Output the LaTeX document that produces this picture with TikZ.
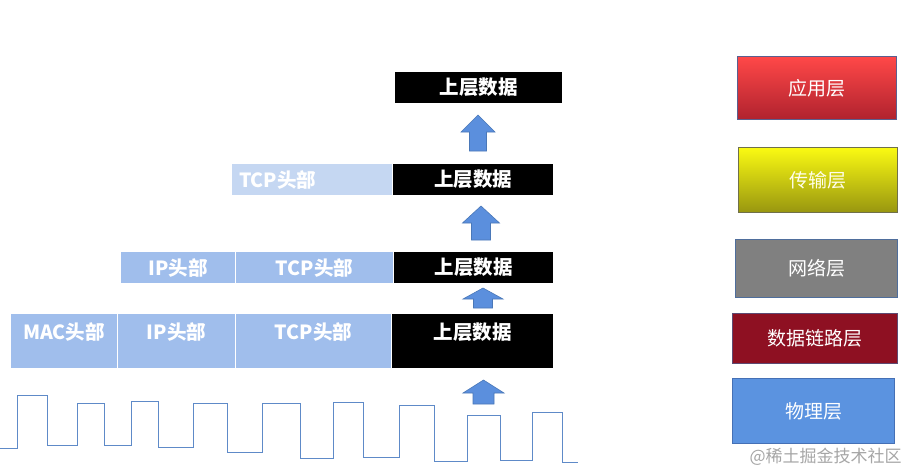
\documentclass[tikz,border=0pt]{standalone}
\usepackage{fontspec}
\setmainfont{Noto Sans CJK SC}
\usetikzlibrary{shadings}
\definecolor{hdrblue}{HTML}{A0BEEC}
\definecolor{hdrlight}{HTML}{C5D7F2}
\definecolor{wavecol}{HTML}{5E8AC8}
\definecolor{arrfill}{HTML}{5B8FDD}
\definecolor{arrdraw}{HTML}{4A78B8}
\definecolor{appTop}{HTML}{FF4848}
\definecolor{appBot}{HTML}{B0222E}
\definecolor{appBorder}{HTML}{5B5F8F}
\definecolor{trTop}{HTML}{FAFA12}
\definecolor{trBot}{HTML}{989610}
\definecolor{trBorder}{HTML}{70704A}
\definecolor{netFill}{HTML}{808080}
\definecolor{netBorder}{HTML}{4F6E9C}
\definecolor{dlFill}{HTML}{8E1022}
\definecolor{dlBorder}{HTML}{5D4A72}
\definecolor{phFill}{HTML}{5B93E0}
\definecolor{phBorder}{HTML}{4570B5}
\tikzset{
  cell/.style={anchor=north west, inner sep=0pt, outer sep=0pt, text=white,
    font=\fontsize{19.5}{21}\selectfont\bfseries},
  datacell/.style={cell, fill=black},
  hdrcell/.style={cell, fill=hdrblue},
  layerbox/.style={anchor=north west, inner sep=0pt, text=white, line width=1pt,
    font=\fontsize{19}{21}\selectfont},
  blkarrow/.style={fill=arrfill, draw=arrdraw, line width=0.6pt},
  wave/.style={draw=wavecol, line width=1pt}
}
\newcommand{\blkarr}[6]{%
  \draw[blkarrow] (#1,#2) -- ({#1+#5},#3) -- ({#1+#6},#3) -- ({#1+#6},#4)
    -- ({#1-#6},#4) -- ({#1-#6},#3) -- ({#1-#5},#3) -- cycle;}
\begin{document}
\begin{tikzpicture}[x=1pt,y=-1pt]
\useasboundingbox[fill=white] (0,0) rectangle (914,474);

% row 1
\node[datacell, minimum width=167pt, minimum height=31pt] (d1) at (395,72) {上层数据};
% row 2
\node[cell, fill=hdrlight, minimum width=160pt, minimum height=31pt, text width=146pt, align=left] (t2) at (232,164) {TCP头部};
\node[datacell, minimum width=160pt, minimum height=31pt] (d2) at (393,164) {上层数据};
% row 3
\node[hdrcell, minimum width=114pt, minimum height=31pt] (i3) at (121,252) {IP头部};
\node[hdrcell, minimum width=157pt, minimum height=31pt] (t3) at (236,252) {TCP头部};
\node[datacell, minimum width=159pt, minimum height=31pt] (d3) at (394,252) {上层数据};
% row 4
\tikzset{row4/.style={minimum height=54pt, text height=14pt, text depth=18pt}}
\node[hdrcell, row4, minimum width=106pt] (m4) at (11,314) {MAC头部};
\node[hdrcell, row4, minimum width=117pt] (i4) at (118,314) {IP头部};
\node[hdrcell, row4, minimum width=155pt] (t4) at (236,314) {TCP头部};
\node[datacell, row4, minimum width=161pt] (d4) at (392,314) {上层数据};

% block arrows
\blkarr{478}{115}{132}{151}{17}{8.5}
\blkarr{481}{206}{223}{240}{18.5}{9.5}
\blkarr{483}{288}{299}{308}{20}{9.5}
\blkarr{483.5}{380}{393}{404}{20.5}{10.5}

% square wave
\draw[wave] (0,448) -- (17,448) -- (17,395) -- (47,395) -- (47,445) -- (77,445)
  -- (77,403) -- (104,403) -- (104,445) -- (131,445) -- (131,401) -- (158,401)
  -- (158,447) -- (193,447) -- (193,403) -- (227,403) -- (227,452) -- (262,452)
  -- (262,403) -- (300,403) -- (300,458) -- (333,458) -- (333,402) -- (363,402)
  -- (363,457) -- (399,457) -- (399,405) -- (434,405) -- (434,461) -- (467,461)
  -- (467,415) -- (500,415) -- (500,460) -- (532,460) -- (532,412) -- (562,412)
  -- (562,462) -- (578,462);

% layer boxes
\node[layerbox, draw=appBorder, top color=appTop, bottom color=appBot,
  minimum width=159pt, minimum height=63pt] (app) at (737,56) {应用层};
\node[layerbox, draw=trBorder, top color=trTop, bottom color=trBot, text=white!92!yellow,
  minimum width=159pt, minimum height=65pt] (tr) at (738,147) {传输层};
\node[layerbox, draw=netBorder, fill=netFill,
  minimum width=162pt, minimum height=58pt] (net) at (735,239) {网络层};
\node[layerbox, draw=dlBorder, fill=dlFill,
  minimum width=165pt, minimum height=50pt] (dl) at (732,313) {数据链路层};
\node[layerbox, draw=phBorder, fill=phFill,
  minimum width=162pt, minimum height=65pt] (ph) at (732,378) {物理层};

% watermark
\node[anchor=west, text=black!35, font=\fontsize{17}{18}\selectfont] (wm) at (746,457) {@稀土掘金技术社区};
\end{tikzpicture}
\end{document}
